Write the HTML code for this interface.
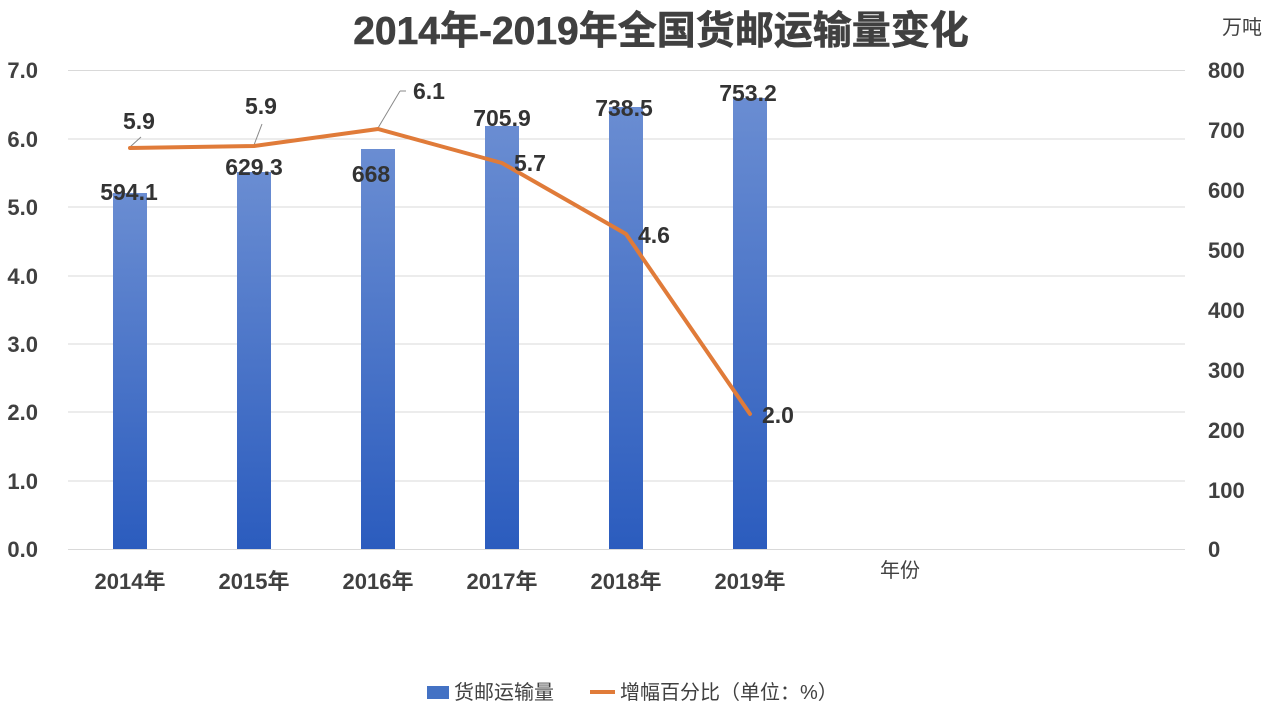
<!DOCTYPE html>
<html><head><meta charset="utf-8"><style>
body{margin:0;background:#fff;}
text{font-family:"Liberation Sans","Noto Sans CJK SC",sans-serif;}
</style></head><body>
<svg width="1280" height="720" viewBox="0 0 1280 720" xmlns="http://www.w3.org/2000/svg">
<defs>
<linearGradient id="g" x1="0" y1="0" x2="0" y2="1">
<stop offset="0" stop-color="#6a8dd2"/><stop offset="1" stop-color="#2b5cbe"/>
</linearGradient>
</defs>
<text x="661" y="44" text-anchor="middle" font-size="39" font-weight="bold" fill="#404040" stroke="#404040" stroke-width="0.6">2014年-2019年全国货邮运输量变化</text>
<text x="1242" y="34" text-anchor="middle" font-size="20" fill="#404040">万吨</text>
<g stroke="#d9d9d9" stroke-width="1">
<line x1="68" y1="70.5" x2="1185" y2="70.5"/>
<line x1="68" y1="139" x2="1185" y2="139"/>
<line x1="68" y1="207" x2="1185" y2="207"/>
<line x1="68" y1="276" x2="1185" y2="276"/>
<line x1="68" y1="344" x2="1185" y2="344"/>
<line x1="68" y1="412" x2="1185" y2="412"/>
<line x1="68" y1="481" x2="1185" y2="481"/>
<line x1="68" y1="549.5" x2="1185" y2="549.5"/>
</g>
<g font-size="22" font-weight="bold" fill="#404040" text-anchor="end">
<text x="38" y="78">7.0</text><text x="38" y="147">6.0</text><text x="38" y="215">5.0</text><text x="38" y="284">4.0</text>
<text x="38" y="352">3.0</text><text x="38" y="420">2.0</text><text x="38" y="489">1.0</text><text x="38" y="557">0.0</text>
</g>
<g font-size="22" font-weight="bold" fill="#404040" text-anchor="start">
<text x="1208" y="78">800</text><text x="1208" y="138">700</text><text x="1208" y="198">600</text><text x="1208" y="258">500</text>
<text x="1208" y="318">400</text><text x="1208" y="378">300</text><text x="1208" y="438">200</text><text x="1208" y="498">100</text><text x="1208" y="557">0</text>
</g>
<g fill="url(#g)">
<rect x="113" y="193" width="34" height="356"/>
<rect x="237" y="172" width="34" height="377"/>
<rect x="361" y="149" width="34" height="400"/>
<rect x="485" y="126" width="34" height="423"/>
<rect x="609" y="107" width="34" height="442"/>
<rect x="733" y="98" width="34" height="451"/>
</g>
<g font-size="23" font-weight="bold" fill="#333" text-anchor="middle">
<text x="129" y="200">594.1</text><text x="254" y="175">629.3</text><text x="371" y="182">668</text>
<text x="502" y="126">705.9</text><text x="624" y="116">738.5</text><text x="748" y="101">753.2</text>
</g>
<g stroke="#888" stroke-width="1">
<line x1="130" y1="147" x2="141" y2="137"/><line x1="254" y1="145" x2="262" y2="124"/><line x1="378" y1="128" x2="400" y2="91"/><line x1="400" y1="91" x2="406" y2="91"/>
</g>
<polyline points="130,148 254,146 378,129 502,163 626,234 750,414" fill="none" stroke="#e07b39" stroke-width="4" stroke-linejoin="round" stroke-linecap="round"/>
<g font-size="23" font-weight="bold" fill="#333">
<text x="123" y="129">5.9</text><text x="245" y="114">5.9</text><text x="413" y="99">6.1</text>
<text x="514" y="171">5.7</text><text x="638" y="243">4.6</text><text x="762" y="423">2.0</text>
</g>
<g font-size="22" font-weight="bold" fill="#404040" text-anchor="middle">
<text x="130" y="589">2014年</text><text x="254" y="589">2015年</text><text x="378" y="589">2016年</text>
<text x="502" y="589">2017年</text><text x="626" y="589">2018年</text><text x="750" y="589">2019年</text>
</g>
<text x="900" y="577" text-anchor="middle" font-size="20" fill="#404040">年份</text>
<rect x="427" y="686" width="22" height="13" fill="#4472c4"/>
<text x="454" y="699" font-size="20" fill="#404040">货邮运输量</text>
<line x1="590" y1="692" x2="615" y2="692" stroke="#e07b39" stroke-width="4"/>
<text x="620" y="699" font-size="20" fill="#404040">增幅百分比（单位：%）</text>
</svg>
</body></html>
